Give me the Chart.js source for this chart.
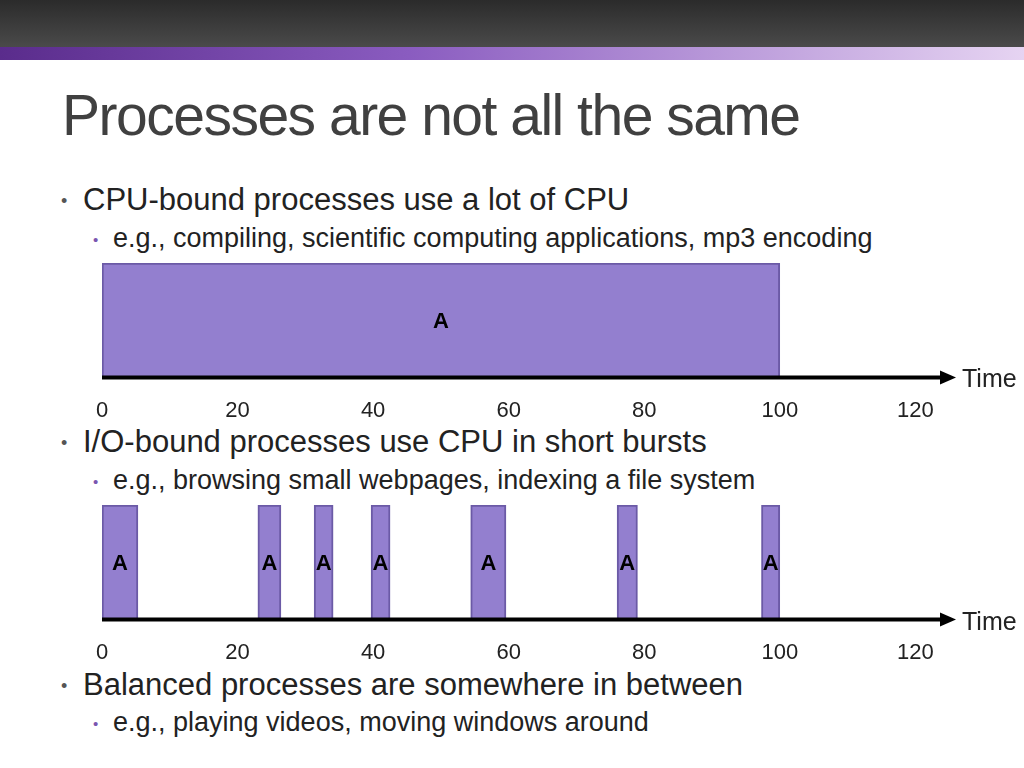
<!DOCTYPE html>
<html><head><meta charset="utf-8">
<script src="https://cdn.jsdelivr.net/npm/chart.js@4"></script>
<style>
body{margin:0;width:1024px;height:768px;background:#fff;position:relative;overflow:hidden;font-family:"Liberation Sans",Arial,sans-serif;color:#222}
#top{position:absolute;left:0;top:0;width:1024px;height:47px;background:linear-gradient(#2b2b2b,#4a4a4a)}
#stripe{position:absolute;left:0;top:47px;width:1024px;height:13px;background:linear-gradient(90deg,#5a2c8c,#8a5cc0 40%,#e6d4f2)}
h1{position:absolute;left:62px;top:82px;margin:0;font-weight:normal;font-size:57px;color:#404040;letter-spacing:-1.5px}
.b{position:absolute;left:83px;font-size:31px;white-space:nowrap}
.b:before{content:"•";position:absolute;left:-22px;font-size:18px;top:9px;color:#555}
.s{position:absolute;left:113px;font-size:27px;white-space:nowrap}
.s:before{content:"•";position:absolute;left:-20px;font-size:15px;top:8px;color:#7a55b0}
.c{position:absolute;left:0;width:1024px;height:200px}
.t{position:absolute;left:962px;font-size:25px}
</style></head><body>
<div id="top"></div><div id="stripe"></div>
<h1>Processes are not all the same</h1>
<div class="b" style="top:182px">CPU-bound processes use a lot of CPU</div>
<div class="s" style="top:223px">e.g., compiling, scientific computing applications, mp3 encoding</div>
<div class="b" style="top:424px">I/O-bound processes use CPU in short bursts</div>
<div class="s" style="top:465px">e.g., browsing small webpages, indexing a file system</div>
<div class="b" style="top:667px">Balanced processes are somewhere in between</div>
<div class="s" style="top:707px">e.g., playing videos, moving windows around</div>
<div class="c" style="top:253px"><canvas id="c1"></canvas></div>
<div class="c" style="top:495px"><canvas id="c2"></canvas></div>
<div class="t" style="top:364px">Time</div>
<div class="t" style="top:607px">Time</div>
<script>
const tickValues=[0,20,40,60,80,100,120];
const cpuBursts=[[0,100]];
const ioBursts=[[0,5.3],[23,26.4],[31.3,34.1],[39.7,42.5],[54.4,59.6],[76,79],[97.3,100]];
const burstLabel="A";
const arrowAndLabels={id:'al',afterDatasetsDraw(ch){
  const c=ch.ctx,a=ch.chartArea,y=a.bottom;
  c.save();c.strokeStyle='#000';c.lineWidth=4;c.beginPath();c.moveTo(a.left,y);c.lineTo(a.right-12,y);c.stroke();
  c.fillStyle='#000';c.beginPath();c.moveTo(a.right,y);c.lineTo(a.right-16,y-7);c.lineTo(a.right-16,y+7);c.closePath();c.fill();
  c.font='bold 22px "Liberation Sans",Arial';c.textAlign='center';c.textBaseline='middle';
  ch.data.datasets.forEach((ds,i)=>ch.getDatasetMeta(i).data.forEach(el=>{c.fillText(burstLabel,el.x-(el.width||0)/2,(el.y)+2)}));
  c.restore();}};
function make(id,bursts){
  const datasets=bursts.map(b=>({data:[b],backgroundColor:'#937fcf',borderColor:'#6b5aa6',borderWidth:2,borderSkipped:false,barPercentage:1,categoryPercentage:1,grouped:false}));
  new Chart(document.getElementById(id),{type:'bar',data:{labels:['A'],datasets},
  options:{indexAxis:'y',responsive:false,animation:false,devicePixelRatio:1,
   layout:{padding:{left:102,right:68,top:10,bottom:0}},
   plugins:{legend:{display:false},tooltip:{enabled:false}},
   scales:{y:{display:false},
    x:{type:'linear',min:0,max:126,afterBuildTicks(s){s.ticks=tickValues.map(v=>({value:v}))},
     grid:{display:false,drawTicks:false},border:{display:false},
     ticks:{padding:20,color:'#222',font:{size:22,family:'"Liberation Sans",Arial'},maxRotation:0,autoSkip:false}}}},
  plugins:[arrowAndLabels]});
}
for(const id of ['c1','c2']){document.getElementById(id).width=1024;document.getElementById(id).height=191;}
make('c1',cpuBursts);make('c2',ioBursts);
</script></body></html>
